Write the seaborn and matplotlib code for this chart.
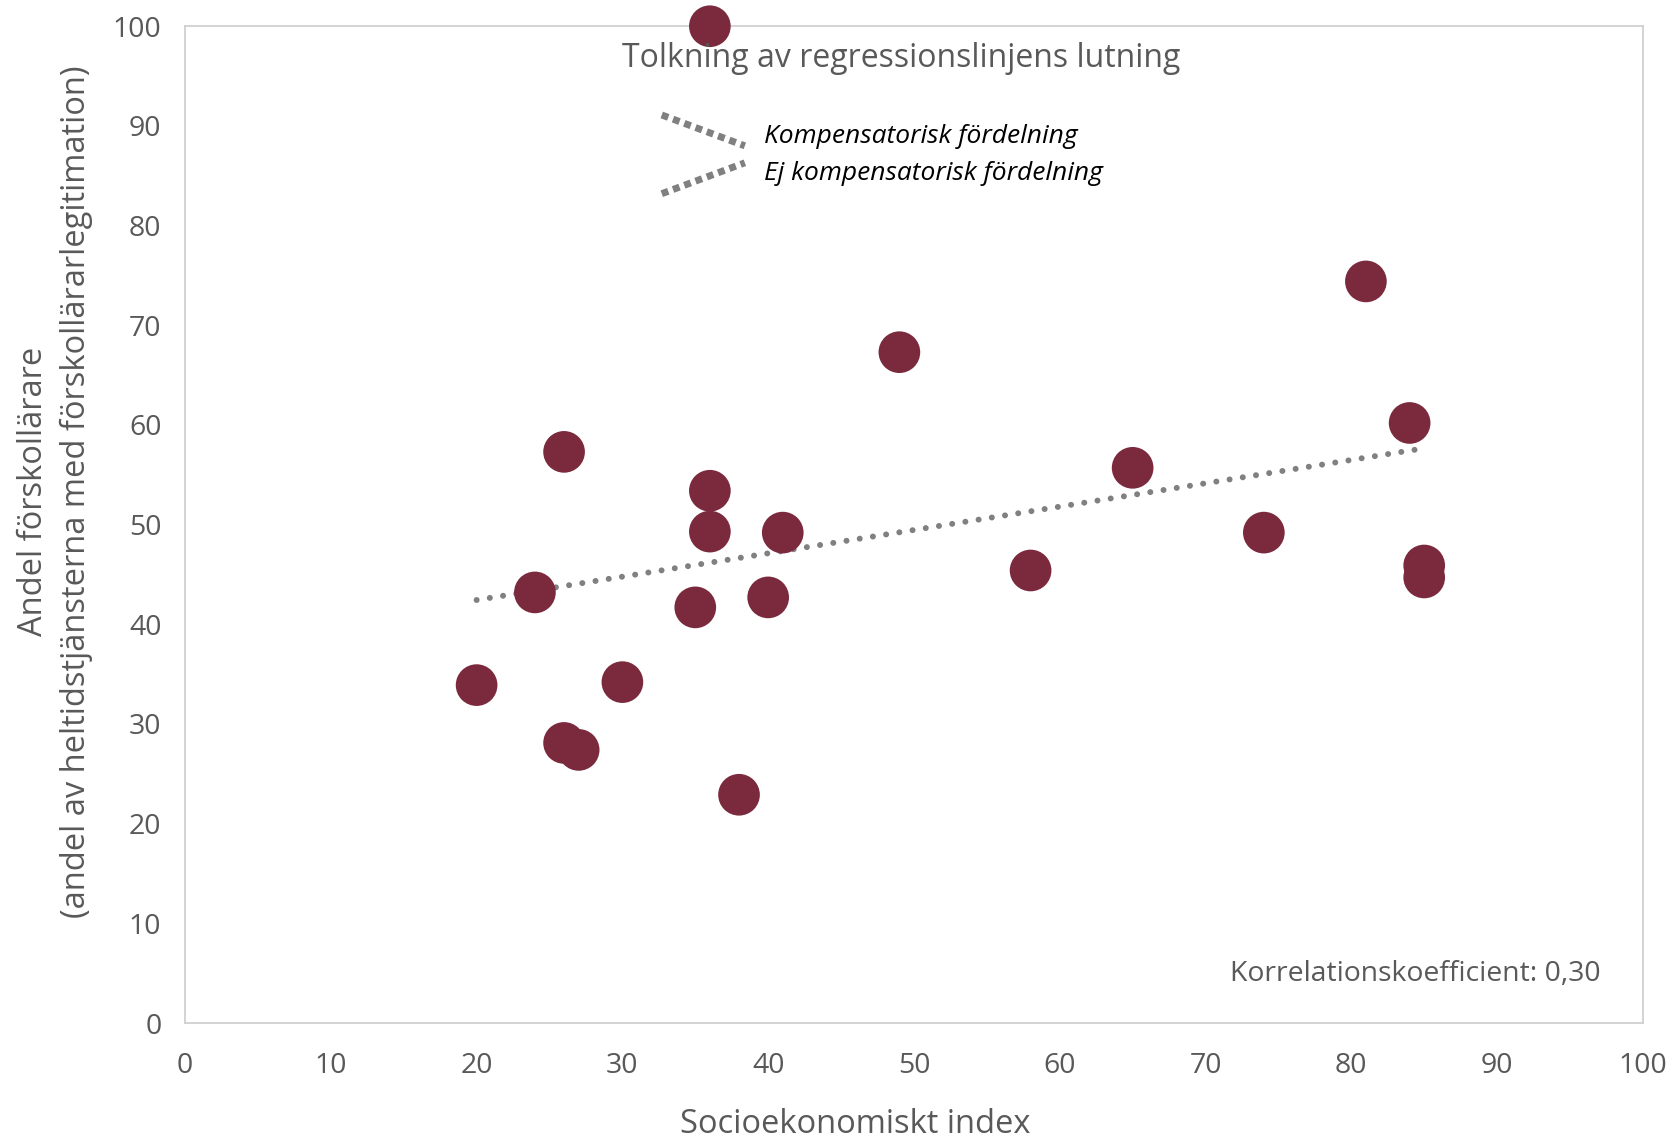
import matplotlib
matplotlib.use("Agg")
import numpy as np
import pandas as pd
import matplotlib.pyplot as plt
import seaborn as sns
from matplotlib.lines import Line2D

# Socioekonomiskt index och andel förskollärare per område
socio_index = [36, 26, 36, 36, 41, 24, 35, 40, 20, 30, 26, 27, 38,
               49, 58, 65, 74, 81, 84, 85, 85]
andel_forskollarare = [100, 57.3, 53.4, 49.3, 49.2, 43.2, 41.7, 42.7, 33.9, 34.2, 28.1, 27.4, 22.9,
                       67.3, 45.4, 55.7, 49.2, 74.4, 60.2, 45.9, 44.7]
x_ticks = [0, 10, 20, 30, 40, 50, 60, 70, 80, 90, 100]
y_ticks = [0, 10, 20, 30, 40, 50, 60, 70, 80, 90, 100]

df = pd.DataFrame({"index": socio_index, "andel": andel_forskollarare})

sns.set_theme(style="white")
plt.rcParams['font.family'] = ['Open Sans', 'DejaVu Sans']

DOT = "#7B2A3E"
GREY = "#808080"
TXT = "#595959"

fig = plt.figure(figsize=(16.73, 11.41), dpi=100)
ax = fig.add_axes([0.1106, 0.1034, 0.8714, 0.8736])

# regressionslinje (prickad) + punkter
sns.regplot(data=df, x="index", y="andel", ax=ax, scatter=False, ci=None,
            line_kws=dict(color=GREY, lw=4.3, ls=(0, (0.01, 2.23)), dash_capstyle="round"))
sns.scatterplot(data=df, x="index", y="andel", ax=ax, s=900, color=DOT,
                edgecolor="none", zorder=3, clip_on=False)

ax.set_xlim(0, 100)
ax.set_ylim(0, 100)
ax.set_xticks(x_ticks)
ax.set_yticks(y_ticks)
ax.tick_params(axis="both", labelsize=20.5, colors=TXT, length=0)
ax.tick_params(axis="x", pad=21)
ax.tick_params(axis="y", pad=17)
for s in ax.spines.values():
    s.set_color("#D0D0D0")
    s.set_linewidth(1.3)

ax.set_xlabel("Socioekonomiskt index", fontsize=23.5, color=TXT, labelpad=20, x=0.46)
ax.set_ylabel("Andel förskollärare\n(andel av heltidstjänsterna med förskollärarlegitimation)",
              fontsize=23.5, color=TXT, labelpad=14, linespacing=1.4, y=0.533)

ax.text(0.491, 0.968, "Tolkning av regressionslinjens lutning", transform=ax.transAxes,
        ha="center", va="center", fontsize=23, color=TXT)

# handritad teckenförklaring för lutningen
ax.add_line(Line2D([0.327, 0.384], [0.911, 0.880], transform=ax.transAxes, color=GREY,
                   lw=5, ls=(0, (1.0, 0.73)), dash_capstyle="butt", clip_on=False))
ax.add_line(Line2D([0.327, 0.384], [0.832, 0.863], transform=ax.transAxes, color=GREY,
                   lw=5, ls=(0, (1.0, 0.73)), dash_capstyle="butt", clip_on=False))
ax.text(0.397, 0.889, "Kompensatorisk fördelning", transform=ax.transAxes,
        ha="left", va="center", fontsize=19, style="italic", color="black")
ax.text(0.397, 0.852, "Ej kompensatorisk fördelning", transform=ax.transAxes,
        ha="left", va="center", fontsize=19, style="italic", color="black")

r = np.corrcoef(socio_index, andel_forskollarare)[0, 1]
ax.text(0.971, 0.049, f"Korrelationskoefficient: {r:.2f}".replace(".", ","),
        transform=ax.transAxes, ha="right", va="center", fontsize=20.4, color=TXT)

fig.savefig("out.png", dpi=100, facecolor="white")
